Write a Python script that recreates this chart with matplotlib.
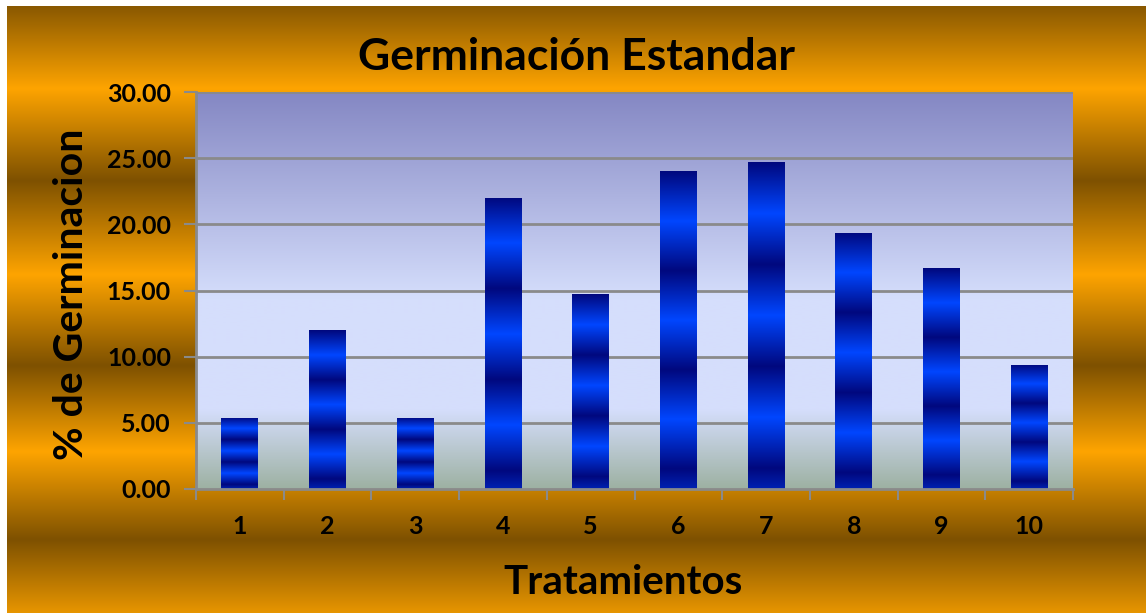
import numpy as np
import matplotlib
matplotlib.use('Agg')
import matplotlib.pyplot as plt
from matplotlib.colors import to_rgb

# ── Data ───────────────────────────────────────────────────────────────────
tratamientos = ['1', '2', '3', '4', '5', '6', '7', '8', '9', '10']
germinacion = [5.4, 12.0, 5.4, 22.0, 14.7, 24.0, 24.7, 19.35, 16.7, 9.4]
y_ticks = [0, 5, 10, 15, 20, 25, 30]

FONT = 'Lato'
W, H = 1146, 613


def blend(stops, t):
    """Piecewise-linear colour ramp; stops = [(pos, colour), ...]"""
    pos = np.array([s[0] for s in stops])
    cols = np.array([to_rgb(s[1]) for s in stops])
    return np.stack([np.interp(t, pos, cols[:, k]) for k in range(3)], axis=-1)


fig = plt.figure(figsize=(W / 100, H / 100), dpi=100)
fig.patch.set_facecolor('white')

# ── Golden banded background ───────────────────────────────────────────────
brown, orange = '#7e5100', '#fea400'
bg_stops = [(0, brown), (90, orange), (182, brown), (276, orange),
            (367, brown), (453, orange), (541, brown), (630, orange)]
bg = fig.add_axes([7 / W, 0, 1 - 7 / W, 1 - 6 / H])
ypix = np.arange(6, H) - 6 + 8
bg.imshow(blend(bg_stops, ypix)[:, None, :], aspect='auto',
          extent=(0, 1, 0, 1), interpolation='bilinear')
bg.set_axis_off()

# ── Plot area ──────────────────────────────────────────────────────────────
ax = fig.add_axes([196 / W, 1 - 489 / H, (1073 - 196) / W, (489 - 92) / H])
ax.set_xlim(0.5, 10.5)
ax.set_ylim(0, 30)

area_stops = [(0, '#8487c3'), (0.52, '#d5defc'), (0.8, '#d5defc'), (1.0, '#9db1a2')]
tt = np.linspace(0, 1, 400)
ax.imshow(blend(area_stops, tt)[:, None, :], aspect='auto',
          extent=(0.5, 10.5, 0, 30), interpolation='bilinear', zorder=0)

for y in y_ticks[1:]:
    ax.axhline(y, color='#8a8a8a', lw=2, zorder=1)

x = np.arange(1, len(tratamientos) + 1)
bw = 0.42
bars = ax.bar(x, germinacion, width=bw, facecolor='none', edgecolor='none', zorder=2)

# striped blue fill, ~3.2 cycles per bar, dark at the top
bar_stops = [(0, '#00087e'), (0.5, '#0046ff'), (1, '#00087e')]
for rect, xi, h in zip(bars, x, germinacion):
    s = np.linspace(0, 1, 300)
    phase = (s * 3.2) % 1.0
    img = blend(bar_stops, phase)[:, None, :]
    im = ax.imshow(img, aspect='auto', extent=(xi - bw / 2, xi + bw / 2, 0, h),
                   interpolation='bilinear', zorder=3)
    im.set_clip_path(rect)

ax.set_xlim(0.5, 10.5)
ax.set_ylim(0, 30)

for side in ['top', 'right']:
    ax.spines[side].set_visible(False)
for side in ['left', 'bottom']:
    ax.spines[side].set_color('#8a8a8a')
    ax.spines[side].set_linewidth(2)
    ax.spines[side].set_zorder(4)

ax.set_yticks(y_ticks)
ax.set_yticklabels([f'{v:.2f}' for v in y_ticks])
ax.set_xticks(x)
ax.set_xticklabels(tratamientos)
ax.set_xticks(np.arange(0.5, 11, 1), minor=True)
ax.tick_params(axis='x', which='major', length=0, pad=19)
ax.tick_params(axis='x', which='minor', length=8, width=1.5, color='#8a8a8a')
ax.tick_params(axis='y', length=9, width=1.5, color='#8a8a8a', pad=9)
for lab in ax.get_xticklabels() + ax.get_yticklabels():
    lab.set_fontfamily(FONT)
    lab.set_fontweight('bold')
    lab.set_fontsize(18)

fig.text(577 / W, 1 - 57 / H, 'Germinación Estandar', ha='center', va='center',
         fontfamily=FONT, fontweight='bold', fontsize=32)
fig.text(623 / W, 1 - 582 / H, 'Tratamientos', ha='center', va='center',
         fontfamily=FONT, fontweight='bold', fontsize=29)
fig.text(72 / W, 1 - 294 / H, '% de Germinacion', ha='center', va='center',
         rotation=90, fontfamily=FONT, fontweight='bold', fontsize=29.5)

plt.savefig('out.png', dpi=100)
